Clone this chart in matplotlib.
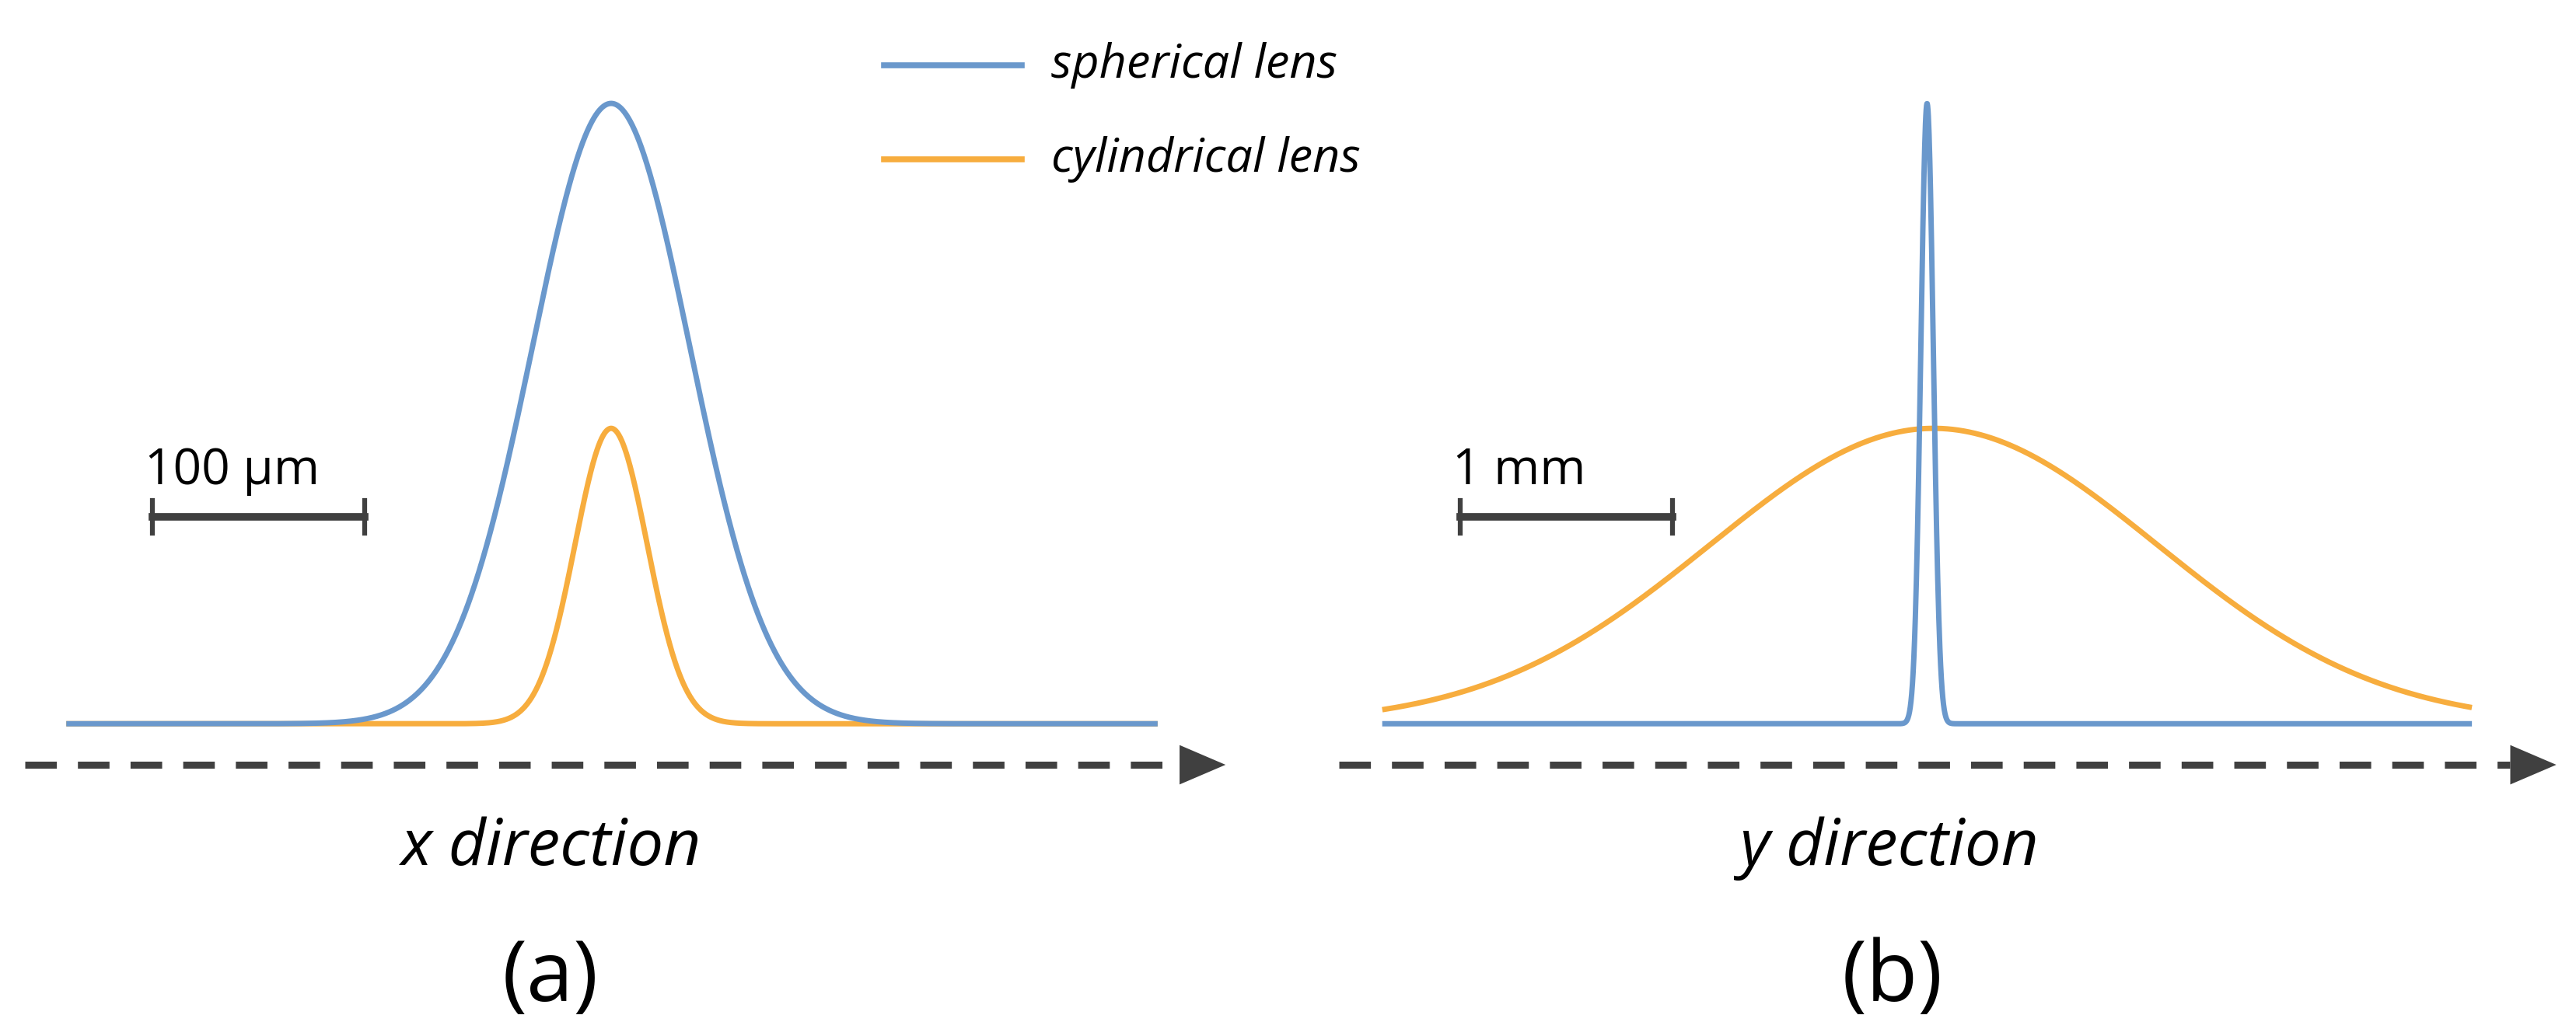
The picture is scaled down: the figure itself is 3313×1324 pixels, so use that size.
import numpy as np
import matplotlib.pyplot as plt
from matplotlib.patches import Polygon

plt.rcParams['font.family'] = ['Open Sans', 'DejaVu Sans']

# panel (a): x direction profiles (peak height, centre, sigma in drawing units)
a_blue = dict(height=378, centre=372, sigma=48)
a_orange = dict(height=180, centre=372, sigma=22)
a_span = (42, 703)
# panel (b): y direction profiles
b_blue = dict(height=378, centre=1173, sigma=3.8)
b_orange = dict(height=180, centre=1177, sigma=136)
b_span = (843, 1503)

legend_labels = ['spherical lens', 'cylindrical lens']
scale_labels = ['100 \u03bcm', '1 mm']
axis_labels = ['x direction', 'y direction']
panel_labels = ['(a)', '(b)']

BLUE = '#6a98cc'
ORANGE = '#f7ad3e'
GREY = '#404040'
BASE = 441

fig = plt.figure(figsize=(33.13, 13.24), dpi=100)
ax = fig.add_axes([0, 0, 1, 1])
ax.set_xlim(0, 1568)
ax.set_ylim(627, 0)
ax.axis('off')


def profile(p, span):
    x = np.linspace(span[0], span[1], 3000)
    return x, BASE - p['height'] * np.exp(-(x - p['centre']) ** 2 / (2 * p['sigma'] ** 2))


for span, orange, blue in [(a_span, a_orange, a_blue), (b_span, b_orange, b_blue)]:
    x, y = profile(orange, span)
    ax.plot(x, y, color=ORANGE, lw=5)
    x, y = profile(blue, span)
    ax.plot(x, y, color=BLUE, lw=5)

# dashed arrows
for x0, x1 in [(15, 718), (815, 1528)]:
    ax.plot([x0, x1], [466, 466], color=GREY, lw=6.5, dashes=(4.5, 3))
    ax.add_patch(Polygon([(x1, 454), (x1 + 28, 466), (x1, 478)], closed=True,
                         color=GREY, lw=0))

# scale bars
for (x0, x1), lab in zip([(93, 222), (889, 1018)], scale_labels):
    ax.plot([x0, x1], [315, 315], color=GREY, lw=7)
    ax.plot([x0, x0], [305, 325], color=GREY, lw=4.5)
    ax.plot([x1, x1], [305, 325], color=GREY, lw=4.5)
    ax.text(x0 - 5, 295, lab, fontsize=46, ha='left', va='baseline', color='black')

for xc, lab in zip([335, 1150], axis_labels):
    ax.text(xc, 527, lab, fontsize=60, style='italic', ha='center', va='baseline')
for xc, lab in zip([335, 1152], panel_labels):
    ax.text(xc, 610, lab, fontsize=78, ha='center', va='baseline')

# legend
for yy, col, lab in zip([40, 97], [BLUE, ORANGE], legend_labels):
    ax.plot([538, 622], [yy, yy], color=col, lw=5.5)
    ax.text(640, yy, lab, fontsize=44, style='italic', ha='left', va='center')

fig.savefig('out.png', dpi=100)
